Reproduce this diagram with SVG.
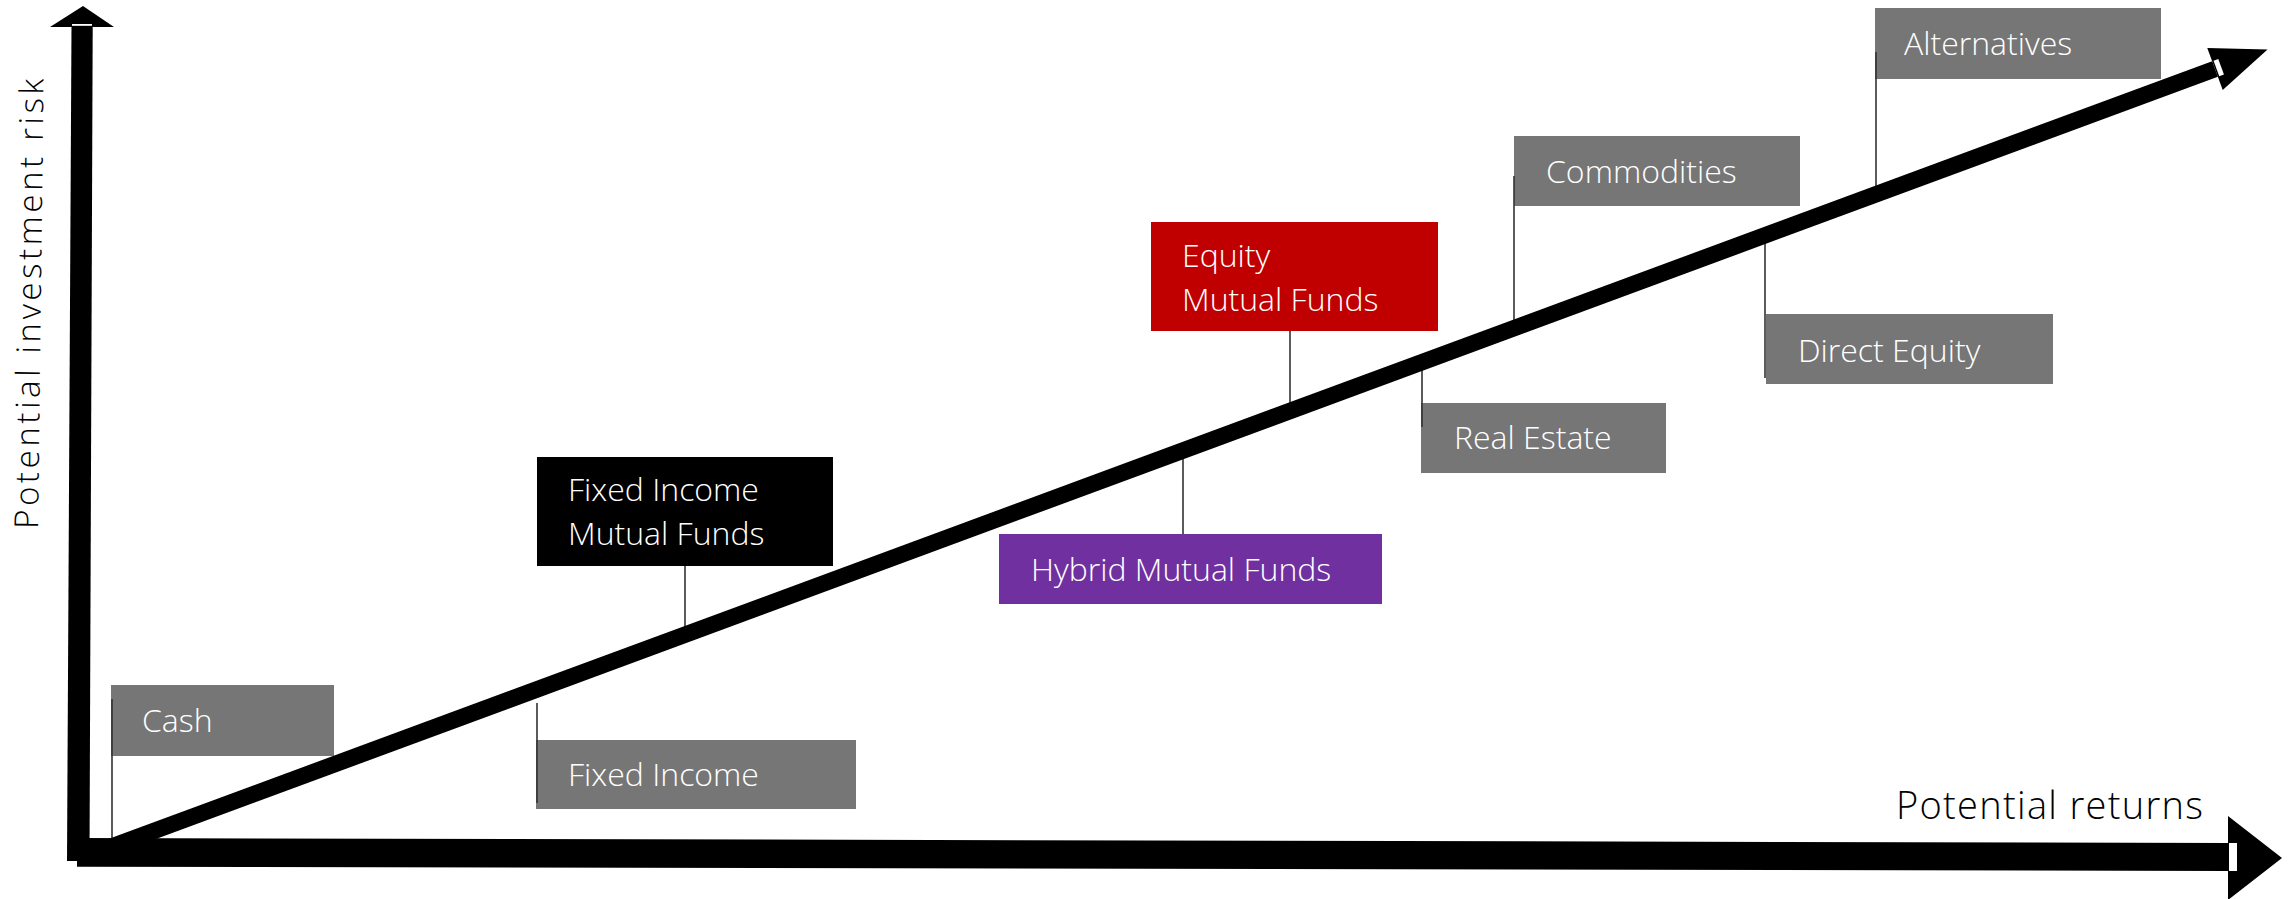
<svg xmlns="http://www.w3.org/2000/svg" width="2290" height="899" viewBox="0 0 2290 899">
<style>
.box{stroke:none}
.gray{fill:#767676}
.t{font-family:"Open Sans","Liberation Sans",sans-serif;font-weight:300;font-size:32px;fill:#ffffff}
.lbl{font-family:"Open Sans","Liberation Sans",sans-serif;font-weight:300;fill:#000000}
.lead{stroke:#333333;stroke-width:1.6;fill:none}
</style>
<rect width="2290" height="899" fill="#ffffff"/>
<g id="node-cash"><rect class="box gray" x="111" y="685" width="223" height="71"/><text class="t" x="142" y="732">Cash</text></g>
<g id="node-fixed-income"><rect class="box gray" x="536" y="740" width="320" height="69"/><text class="t" x="568" y="786">Fixed Income</text></g>
<g id="node-fixed-income-mf"><rect class="box" fill="#000000" x="537" y="457" width="296" height="109"/><text class="t"><tspan x="568" y="501">Fixed Income</tspan><tspan x="568" y="545">Mutual Funds</tspan></text></g>
<g id="node-hybrid-mf"><rect class="box" fill="#7030A0" x="999" y="534" width="383" height="70"/><text class="t" x="1031" y="581">Hybrid Mutual Funds</text></g>
<g id="node-equity-mf"><rect class="box" fill="#C00000" x="1151" y="222" width="287" height="109"/><text class="t"><tspan x="1182" y="267">Equity</tspan><tspan x="1182" y="311">Mutual Funds</tspan></text></g>
<g id="node-real-estate"><rect class="box gray" x="1421" y="403" width="245" height="70"/><text class="t" x="1454" y="449">Real Estate</text></g>
<g id="node-commodities"><rect class="box gray" x="1514" y="136" width="286" height="70"/><text class="t" x="1546" y="183">Commodities</text></g>
<g id="node-direct-equity"><rect class="box gray" x="1766" y="314" width="287" height="70"/><text class="t" x="1798" y="362">Direct Equity</text></g>
<g id="node-alternatives"><rect class="box gray" x="1875" y="8" width="286" height="71"/><text class="t" x="1904" y="55">Alternatives</text></g>
<g id="connectors">
<line class="lead" x1="112" y1="699" x2="112" y2="840"/>
<line class="lead" x1="537" y1="703" x2="537" y2="803"/>
<line class="lead" x1="685" y1="566" x2="685" y2="632"/>
<line class="lead" x1="1183" y1="455" x2="1183" y2="534"/>
<line class="lead" x1="1290" y1="331" x2="1290" y2="410"/>
<line class="lead" x1="1422" y1="364" x2="1422" y2="427"/>
<line class="lead" x1="1514" y1="176" x2="1514" y2="326"/>
<line class="lead" x1="1765" y1="238" x2="1765" y2="378"/>
<line class="lead" x1="1876" y1="52" x2="1876" y2="192"/>
</g>
<g id="axes">
<polygon points="71.5,26 92.7,26 89.5,861 67,861" fill="#000"/>
<polygon points="50,27 114,27 83,6" fill="#000"/>
<rect x="72" y="24" width="20" height="1.8" fill="#fff"/>
<polygon points="77,838 2229,843 2229,871 77,866.7" fill="#000"/>
<polygon points="2228,816 2282,858 2228,900" fill="#000"/>
<rect x="2229" y="843" width="8" height="28" fill="#fff"/>
<line x1="95" y1="852.8" x2="2215" y2="69" stroke="#000" stroke-width="16.5"/>
<g transform="translate(2215,69) rotate(-20.25)">
<polygon points="0,-22.3 56,0 0,22.3" fill="#000"/>
<rect x="1.5" y="-8.25" width="5" height="16.5" fill="#fff"/>
</g>
</g>
<g id="axis-labels">
<text class="lbl" x="1896" y="819" font-size="38" letter-spacing="1.3">Potential returns</text>
<text class="lbl" transform="translate(38,529) rotate(-89.3)" font-size="33" letter-spacing="3.6">Potential investment risk</text>
</g>
</svg>
